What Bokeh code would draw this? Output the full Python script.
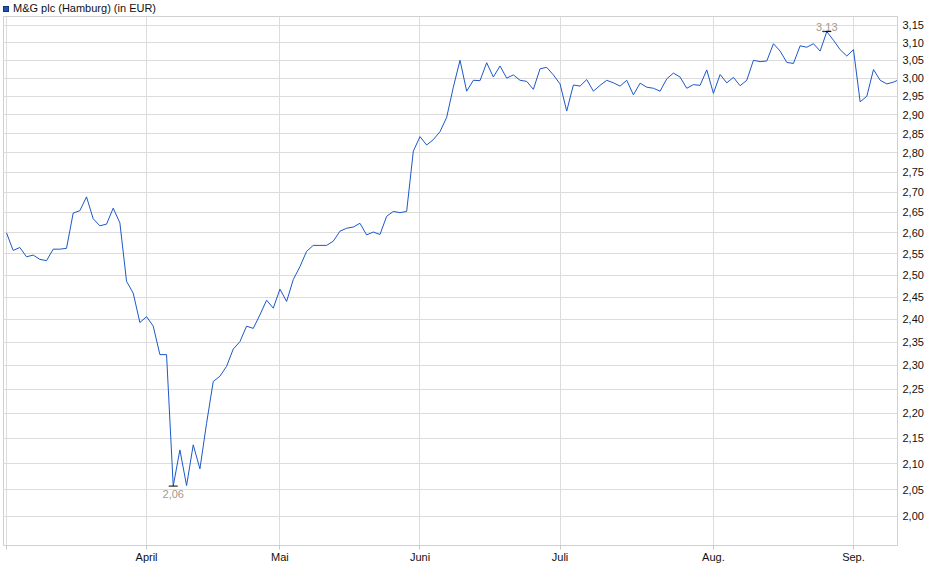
from bokeh.plotting import figure
from bokeh.layouts import column
from bokeh.models import Range1d, FixedTicker, CustomJSTickFormatter, Label, Div
from bokeh.embed import file_html
from bokeh.resources import INLINE

series_name = "M&G plc (Hamburg) (in EUR)"

# daily closing prices, one per trading day (3 March .. 10 September)
prices = [
    2.600, 2.558, 2.565, 2.543, 2.547, 2.537, 2.534, 2.561, 2.561, 2.563,
    2.648, 2.654, 2.688, 2.634, 2.617, 2.621, 2.660, 2.624, 2.486, 2.459,
    2.393, 2.406, 2.385, 2.323, 2.323, 2.057, 2.127, 2.058, 2.137, 2.090,
    2.180, 2.266, 2.277, 2.298, 2.335, 2.351, 2.385, 2.380, 2.410, 2.443,
    2.425, 2.468, 2.440, 2.490, 2.520, 2.556, 2.570, 2.570, 2.570, 2.580,
    2.604, 2.611, 2.614, 2.623, 2.595, 2.602, 2.596, 2.640, 2.652, 2.649,
    2.652, 2.804, 2.842, 2.820, 2.834, 2.855, 2.893, 2.975, 3.050, 2.964,
    2.994, 2.993, 3.043, 3.003, 3.034, 3.000, 3.009, 2.994, 2.991, 2.969,
    3.026, 3.030, 3.009, 2.984, 2.910, 2.981, 2.978, 2.996, 2.964, 2.980,
    2.994, 2.987, 2.978, 2.994, 2.954, 2.986, 2.975, 2.972, 2.964, 2.998,
    3.014, 3.003, 2.972, 2.982, 2.980, 3.023, 2.958, 3.010, 2.987, 3.002,
    2.979, 2.994, 3.050, 3.046, 3.048, 3.097, 3.076, 3.044, 3.041, 3.091,
    3.087, 3.097, 3.076, 3.132, 3.107, 3.080, 3.062, 3.080, 2.935, 2.950,
    3.024, 2.994, 2.984, 2.989, 2.997,
]

# trading-day index of each month start and its label
month_idx = [0, 21, 41, 62, 83, 106, 127]
month_labels = ["", "April", "Mai", "Juni", "Juli", "Aug.", "Sep."]

y_ticks = [2.00, 2.05, 2.10, 2.15, 2.20, 2.25, 2.30, 2.35, 2.40, 2.45, 2.50, 2.55,
           2.60, 2.65, 2.70, 2.75, 2.80, 2.85, 2.90, 2.95, 3.00, 3.05, 3.10, 3.15]

days = list(range(len(prices)))
FONT = "Liberation Sans"
GRID = "#dcdcdc"

# legend line above the chart
header = Div(
    text=('<div style="font-family:\'Liberation Sans\';font-size:11px;line-height:14px;'
          'color:#111;white-space:nowrap;padding-left:3px">'
          '<span style="display:inline-block;width:6px;height:6px;background:#1f52b8;'
          'border:1px solid #14357a;margin-right:4px;vertical-align:0px"></span>'
          + series_name.replace("&", "&amp;") + '</div>'),
    width=926, height=16, margin=(0, 0, 0, 0))

p = figure(width=926, height=549, output_backend="svg", toolbar_location=None,
           y_axis_type="log", y_axis_location="right",
           x_range=Range1d(-0.45, 133.6), y_range=Range1d(1.947, 3.176),
           min_border_left=3, min_border_right=27, min_border_top=0, min_border_bottom=20)
p.margin = (0, 0, 0, 0)
p.background_fill_color = "white"
p.border_fill_color = "white"
p.outline_line_color = "#d0d0d0"

p.line(days, prices, line_color="#1c58c8", line_width=1)

# min / max markers
imin = prices.index(min(prices))
imax = prices.index(max(prices))
p.scatter([imin, imax], [prices[imin], prices[imax]], marker="dash", size=9,
          line_color="black", line_width=1)
p.add_layout(Label(x=imin, y=prices[imin], text=f"{prices[imin]:.2f}".replace(".", ","),
                   y_offset=-4, text_baseline="top", text_align="center",
                   text_font=FONT, text_font_size="11px", text_color="#a39a8f"))
p.add_layout(Label(x=imax, y=prices[imax], text=f"{prices[imax]:.2f}".replace(".", ","),
                   y_offset=5, text_baseline="alphabetic", text_align="center",
                   text_font=FONT, text_font_size="11px", text_color="#a39a8f"))

# grids
p.xgrid.ticker = FixedTicker(ticks=month_idx)
p.ygrid.ticker = FixedTicker(ticks=y_ticks)
p.xgrid.grid_line_color = GRID
p.ygrid.grid_line_color = GRID

# x axis
p.xaxis.ticker = FixedTicker(ticks=month_idx)
p.xaxis.major_label_overrides = dict(zip(month_idx, month_labels))
p.xaxis.axis_line_color = "#d0d0d0"
p.xaxis.major_tick_line_color = "#c8c8c8"
p.xaxis.major_tick_in = 0
p.xaxis.major_tick_out = 4
p.xaxis.minor_tick_line_color = None
p.xaxis.major_label_standoff = 1
p.xaxis.major_label_text_font = FONT
p.xaxis.major_label_text_font_size = "11px"
p.xaxis.major_label_text_color = "#111111"

# y axis
p.yaxis.ticker = FixedTicker(ticks=y_ticks)
p.yaxis.formatter = CustomJSTickFormatter(code="return tick.toFixed(2).replace('.', ',');")
p.yaxis.axis_line_color = "#d0d0d0"
p.yaxis.major_tick_line_color = None
p.yaxis.minor_tick_line_color = None
p.yaxis.major_tick_in = 0
p.yaxis.major_tick_out = 0
p.yaxis.major_label_standoff = 5
p.yaxis.major_label_text_font = FONT
p.yaxis.major_label_text_font_size = "11px"
p.yaxis.major_label_text_color = "#111111"

layout = column(header, p, spacing=0)
open("out.html", "w").write(file_html(layout, INLINE))
